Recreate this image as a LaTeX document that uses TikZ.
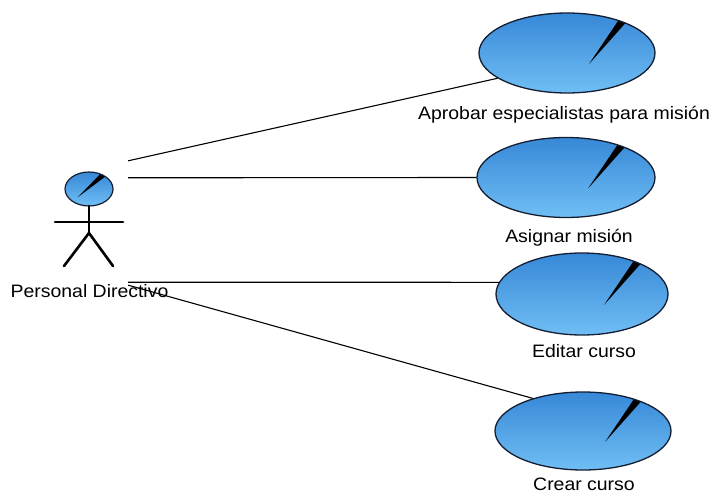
\documentclass[tikz,border=0pt]{standalone}
\usepackage{fontspec}
\setmainfont{Liberation Sans}[FakeStretch=1.08]
\usetikzlibrary{shapes.geometric,calc}

\definecolor{ucTop}{RGB}{55,136,215}
\definecolor{ucBottom}{RGB}{112,190,244}
\definecolor{ucEdge}{RGB}{20,30,50}

\tikzset{
  usecase/.style={ellipse, draw=ucEdge, line width=1.3pt, inner sep=0pt,
    top color=ucTop, bottom color=ucBottom,
    path picture={
      \fill[black] ([shift={(22pt,-11pt)}]path picture bounding box.center)
        -- ++(56:95pt) -- ++(-90:19pt) -- cycle;
    }},
  caption/.style={font=\fontsize{18}{20}\selectfont, anchor=base, inner sep=0pt},
  assoc/.style={draw=black, line width=1.1pt},
  limb/.style={line width=2.6pt, line cap=round},
  actorbox/.style={rectangle, draw=none, inner sep=0pt, minimum width=78pt, minimum height=124pt}
}

\begin{document}
\begin{tikzpicture}[x=1pt,y=1pt]
  \useasboundingbox (0,0) rectangle (717,496);

  % actor
  \node[actorbox] (actor) at (89,273) {};
  \node[ellipse, draw=ucEdge, line width=1.2pt, inner sep=0pt,
        minimum width=48pt, minimum height=34pt,
        top color=ucTop, bottom color=ucBottom,
        path picture={
          \fill[black] ([shift={(-11pt,-8pt)}]path picture bounding box.center)
            -- ++(46:45pt) -- ++(-90:9pt) -- cycle;
        }] (head) at (89,307) {};
  \coordinate (neck) at (89,290);
  \coordinate (hip) at (89,263);
  \coordinate (lhand) at (55,274);
  \coordinate (rhand) at (123,274);
  \coordinate (lfoot) at (64,230);
  \coordinate (rfoot) at (113,230);
  \draw[limb] (neck) -- (hip);
  \draw[limb] (lhand) -- (rhand);
  \draw[limb] (lfoot) -- (hip) -- (rfoot);
  \node[caption] (actorname) at (89.5,199) {Personal Directivo};

  % use cases
  \node[usecase, minimum width=176pt, minimum height=80pt] (uc1) at (567,443) {};
  \node[usecase, minimum width=178pt, minimum height=80pt] (uc2) at (566,318.5) {};
  \node[usecase, minimum width=172pt, minimum height=82pt] (uc3) at (582,202) {};
  \node[usecase, minimum width=176pt, minimum height=78pt] (uc4) at (583,65) {};

  \node[caption] (t1) at (564,376) {Aprobar especialistas para misión};
  \node[caption] (t2) at (569,254) {Asignar misión};
  \node[caption] (t3) at (584,139) {Editar curso};
  \node[caption] (t4) at (584,6) {Crear curso};

  % associations
  \draw[assoc] (actor.north east) -- (uc1.200);
  \draw[assoc] ([yshift=-17pt]actor.north east) -- (uc2.180);
  \draw[assoc] ([yshift=3pt]actor.south east) -- (uc3.172);
  \draw[assoc] (actor.south east) -- (uc4.147);
\end{tikzpicture}
\end{document}
